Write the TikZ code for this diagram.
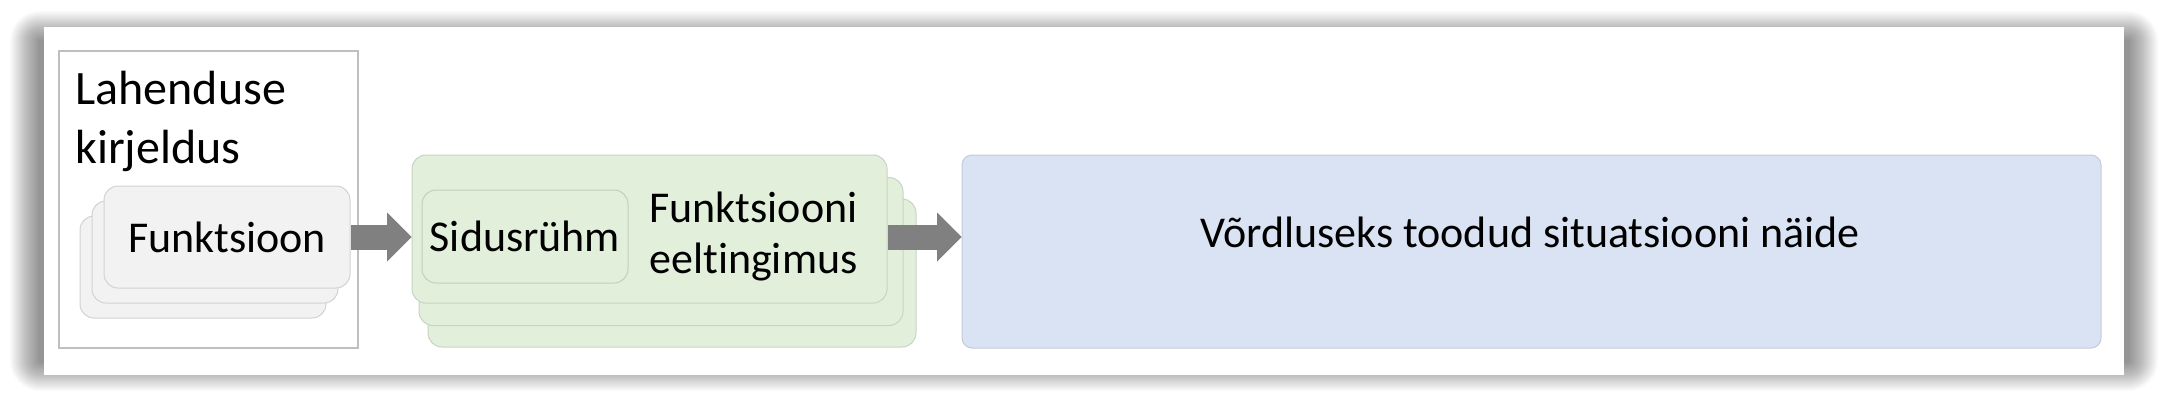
\documentclass[tikz,border=0pt]{standalone}
\usepackage{fontspec}
\setmainfont{Carlito}[Ligatures=NoCommon]
\usetikzlibrary{arrows.meta,calc}

\definecolor{cardgray}{HTML}{F2F2F2}
\definecolor{cardgrayline}{HTML}{D2D2D2}
\definecolor{cardgreen}{HTML}{E2EFDA}
\definecolor{cardgreenline}{HTML}{C9D3C3}
\definecolor{sidline}{HTML}{C4CEBE}
\definecolor{exblue}{HTML}{DAE3F3}
\definecolor{exblueline}{HTML}{C4CBD8}
\definecolor{boxline}{HTML}{BFBFBF}
\definecolor{arrowgray}{HTML}{808080}

\tikzset{
  txt/.style={inner sep=0pt, font=\fontsize{22}{25.5}\selectfont},
  fcard/.style={draw=cardgrayline, fill=cardgray, line width=0.5pt,
    rounded corners=7pt, minimum width=123pt, minimum height=51pt,
    inner sep=0pt, font=\fontsize{22}{25.5}\selectfont},
  gcard/.style={draw=cardgreenline, fill=cardgreen, line width=0.5pt,
    rounded corners=7pt, minimum height=74pt, inner sep=0pt,
    font=\fontsize{22}{25.5}\selectfont},
  exbox/.style={draw=exblueline, fill=exblue, line width=0.5pt,
    rounded corners=5pt, inner sep=0pt},
  blockarrow/.style={draw=arrowgray, line width=12.5pt,
    -{Triangle[length=12.25pt,width=24.5pt,line width=0pt]}},
}

\begin{document}
\begin{tikzpicture}[x=0.5pt, y=-0.5pt]
        \useasboundingbox[fill=white] (0,0) rectangle (2168,402);
        \begin{scope}[shift={(0,0)}]
          %% panel with its shadow
          \coordinate (pnw) at (44,27);
          \coordinate (pse) at (2124,375);
          \foreach \i in {1,...,30} {
            \fill[black, opacity=0.017, rounded corners=\i*0.5pt]
              ($(pnw)+({-4-\i},{14-\i})$) rectangle
              ($(pse)+({4+\i},{-14+\i})$); }
          \fill[white] (pnw) rectangle (pse);

          %% solution description
          \node[draw=boxline, fill=white, line width=0.8pt, inner sep=0pt,
                minimum width=149.5pt, minimum height=148.5pt] (sol) at (208.5,199.5) {};
          \node[inner sep=0pt, anchor=base west, text width=140pt, align=left,
                font=\fontsize{24}{29.5}\selectfont] (soltitle) at (75,104)
               {Lahenduse\\kirjeldus};

          \foreach \d in {2,1} {
            \node[fcard] at ({227-12*\d},{237+15*\d}) {}; }
          \node[fcard] (fn) at (227,237) {Funktsioon};

          %% stakeholder group cards
          \foreach \cx/\cy/\w in {672/273/488, 661/251.5/484} {
            \node[gcard, minimum width=\w*0.5pt] at (\cx,\cy) {}; }
          \node[gcard, minimum width=237.5pt] (grp) at (649.5,229) {};
          \node[gcard, draw=sidline, minimum width=103pt, minimum height=46.5pt]
               (sid) at (525,236.5) {Sidusrühm};
          \node[txt, anchor=base, text width=120pt, align=center] (pre) at (753.5,222)
               {Funktsiooni\\eeltingimus};

          %% example
          \node[exbox, minimum width=569.5pt, minimum height=96.5pt] (ex) at (1531.5,251.5) {};
          \node[txt, anchor=base] (extext) at (1530,247)
               {Võrdluseks toodud situatsiooni näide};

          %% arrows
          \draw[blockarrow] (fn.east) -- (fn.east -| grp.west);
          \draw[blockarrow] (grp.east |- fn.east) -- (fn.east -| ex.west);
        \end{scope}
\end{tikzpicture}
\end{document}
